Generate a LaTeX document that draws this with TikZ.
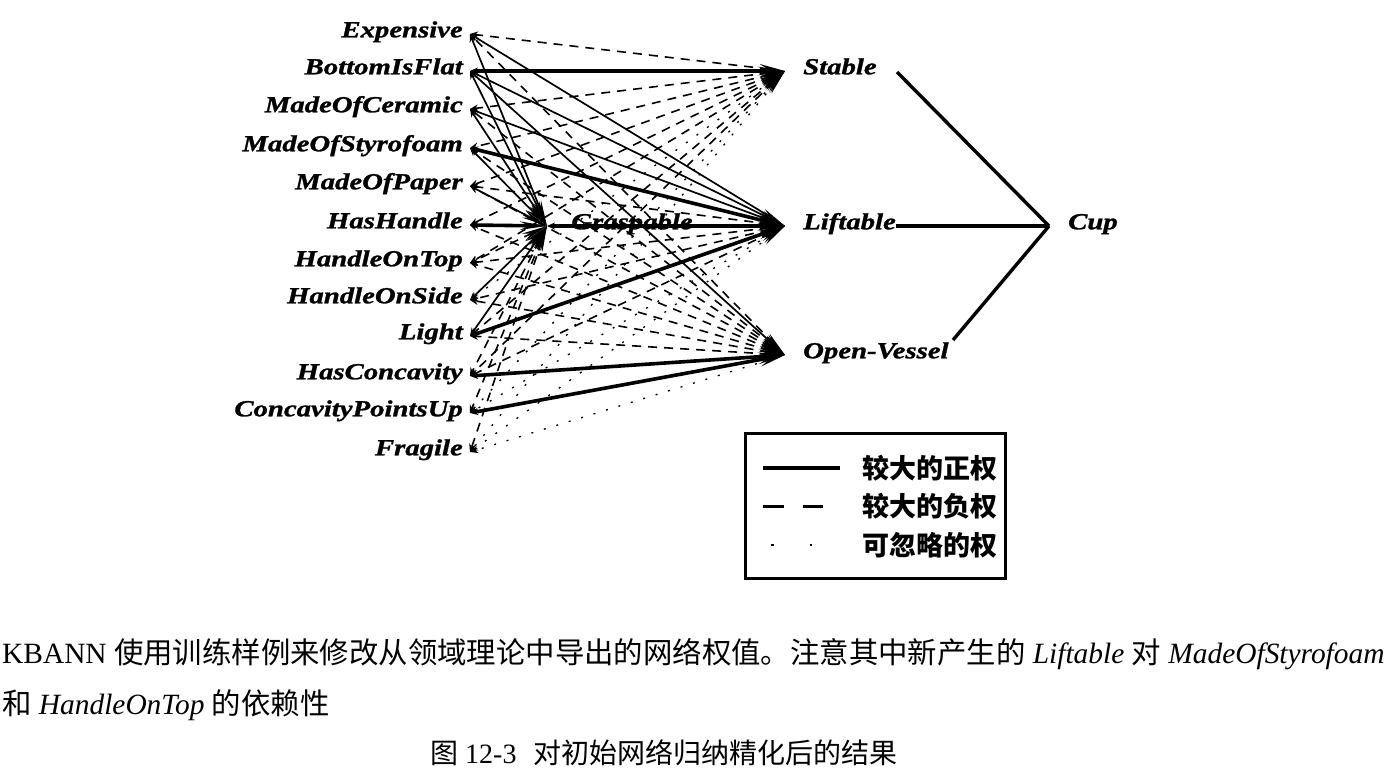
\documentclass[tikz,border=0pt]{standalone}
\usepackage{fontspec}
\setmainfont{Liberation Serif}
\newfontfamily\unitfont[FakeStretch=1.25, FakeBold=1.2]{Liberation Serif}
\newfontfamily\cjk{Noto Sans CJK SC}
\usetikzlibrary{arrows.meta}

\begin{document}
\begin{tikzpicture}[x=1pt,y=-1pt,
  unit/.style={font=\unitfont\fontsize{23}{25}\selectfont\bfseries\itshape, inner sep=0pt,
               text height=0.66em, text depth=0pt},
  inunit/.style={unit, anchor=east, inner xsep=7pt},
  posw/.style={line width=3.6pt},
  midw/.style={line width=1.7pt},
  negw/.style={line width=1.6pt, dash pattern=on 9pt off 7pt},
  tinyw/.style={line width=1.3pt, dash pattern=on 2pt off 11pt},
  wire/.style={{Stealth[length=26pt,width=8pt]}-{Stealth[length=8pt,width=7pt]}},
  cupw/.style={line width=3.4pt},
  capt/.style={anchor=base west, inner sep=0pt, font=\fontsize{29.4}{31}\selectfont},
  legtext/.style={anchor=west, inner sep=0pt, font=\cjk\bfseries\fontsize{27}{29}\selectfont},
]
\useasboundingbox (0,0) rectangle (1390,770);

% input units
\node[inunit] (exp)   at (470,34)  {Expensive};
\node[inunit] (bif)   at (470,71)  {BottomIsFlat};
\node[inunit] (moc)   at (470,109) {MadeOfCeramic};
\node[inunit] (mos)   at (470,148) {MadeOfStyrofoam};
\node[inunit] (mop)   at (470,186) {MadeOfPaper};
\node[inunit] (hh)    at (470,225) {HasHandle};
\node[inunit] (hot)   at (470,263) {HandleOnTop};
\node[inunit] (hos)   at (470,300) {HandleOnSide};
\node[inunit] (light) at (470,336) {Light};
\node[inunit] (hc)    at (470,376) {HasConcavity};
\node[inunit] (cpu)   at (470,413) {ConcavityPointsUp};
\node[inunit] (frag)  at (470,452) {Fragile};

% hidden and output units
\coordinate (hS) at (785,71);
\coordinate (hL) at (785,226);
\coordinate (hO) at (785,355);
\coordinate (hG) at (547,226);
\coordinate (hC) at (1049,226);

% Stable
\foreach \n/\w in {exp/negw, bif/posw, moc/negw, mos/negw, mop/negw, hh/negw,
                   hot/negw, hos/tinyw, light/negw, hc/negw, cpu/tinyw, frag/tinyw}
  \draw[wire, \w] (hS) -- (\n.east);
% Liftable
\foreach \n/\w in {exp/midw, bif/midw, moc/midw, mos/posw, mop/negw, hh/negw,
                   hot/negw, hos/negw, light/posw, hc/negw, cpu/tinyw, frag/tinyw}
  \draw[wire, \w] (hL) -- (\n.east);
% Open-Vessel
\foreach \n/\w in {exp/negw, bif/midw, moc/negw, mos/negw, mop/negw, hh/negw,
                   hot/negw, hos/negw, light/negw, hc/posw, cpu/posw, frag/tinyw}
  \draw[wire, \w] (hO) -- (\n.east);
% Graspable
\foreach \n/\w in {exp/midw, bif/midw, moc/midw, mos/midw, mop/midw, hh/posw,
                   hot/negw, hos/midw, light/midw, hc/negw, cpu/negw, frag/negw}
  \draw[wire, \w] (hG) -- (\n.east);
\draw[wire, posw] (hL) -- (hG);

\node[unit, anchor=center] (grasp) at (632,226) {Graspable};
\node[unit, anchor=west] (stable) at (803,71)  {Stable};
\node[unit, anchor=west] (lift)   at (803,226) {Liftable};
\node[unit, anchor=west] (open)   at (803,355) {Open-Vessel};
\node[unit, anchor=west] (cup)    at (1068,226) {Cup};

% Cup connections
\coordinate (cS) at (897,72);
\coordinate (cO) at (953,340);
\draw[cupw] (cS) -- (hC);
\draw[cupw] (lift.east) -- (hC);
\draw[cupw] (cO) -- (hC);

% legend
\node[draw, line width=3pt, minimum width=260pt, minimum height=145pt,
      anchor=north west, inner sep=0pt] (legend) at (744,432) {};
\draw[line width=3.2pt] (763,468) -- (840,468);
\draw[line width=3pt, dash pattern=on 21pt off 19pt] (763,506) -- (823,506);
\draw[line width=2.5pt, dash pattern=on 2.5pt off 36pt] (771,545) -- (812,545);
\node[legtext] (l1) at (862,468) {较大的正权};
\node[legtext] (l2) at (862,506) {较大的负权};
\node[legtext] (l3) at (862,545) {可忽略的权};

% caption
\node[capt] (c1) at (2,663) {KBANN {\cjk 使用训练样例来修改从领域理论中导出的网络权值。注意其中新产生的} \textit{Liftable} {\cjk 对} \textit{MadeOfStyrofoam}};
\node[capt] (c2) at (2,714) {{\cjk 和} \textit{HandleOnTop} {\cjk 的依赖性}};
\node[capt, font=\fontsize{28}{30}\selectfont] (c3) at (430,763) {{\cjk 图} 12-3\hspace{0.6em}{\cjk 对初始网络归纳精化后的结果}};
\end{tikzpicture}
\end{document}
